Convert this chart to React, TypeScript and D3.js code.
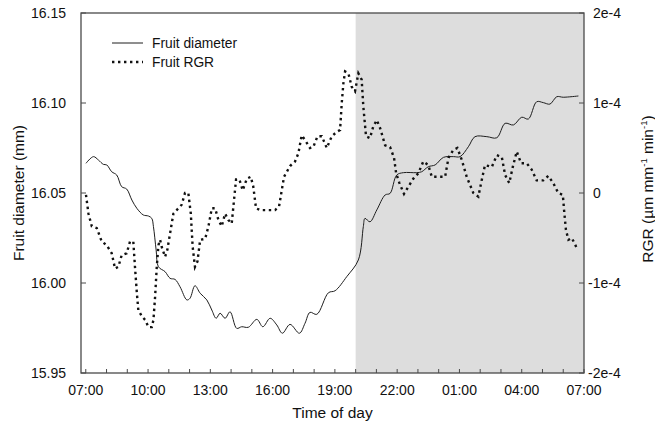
import React from 'react';
import * as d3 from 'd3';

// Time in hours since 00:00 of day 1 (values > 24 are the next day)
const diameterTime = [7.01, 7.37, 7.61, 7.85, 8.01, 8.25, 8.49, 8.73, 8.97, 9.22, 9.46, 9.77, 10.02, 10.18, 10.26, 10.39, 10.5, 10.82, 11.06, 11.3, 11.54, 11.87, 12.02, 12.26, 12.51, 12.83, 13.07, 13.28, 13.47, 13.71, 13.95, 14.27, 14.51, 14.83, 15.24, 15.53, 15.88, 16.2, 16.47, 16.84, 17.29, 17.56, 17.8, 18.13, 18.69, 19.01, 19.57, 20.13, 20.37, 20.45, 20.69, 21.02, 21.42, 21.66, 21.98, 22.3, 22.94, 23.18, 23.5, 23.83, 24.23, 24.71, 25.03, 25.43, 25.75, 26.32, 26.8, 27.2, 27.6, 28.0, 28.32, 28.72, 29.04, 29.36, 29.69, 30.0, 30.73];
const diameterValue = [16.0665, 16.0702, 16.0683, 16.0659, 16.0656, 16.0618, 16.06, 16.0535, 16.0522, 16.0461, 16.0415, 16.0378, 16.0372, 16.0359, 16.0313, 16.0183, 16.009, 16.0063, 16.0026, 16.002, 15.9979, 15.9906, 15.9915, 15.9985, 15.9943, 15.9906, 15.985, 15.9804, 15.9832, 15.9804, 15.984, 15.9748, 15.9757, 15.9754, 15.9798, 15.9757, 15.9804, 15.9767, 15.9721, 15.977, 15.9721, 15.9776, 15.9837, 15.9826, 15.9946, 15.9957, 16.0035, 16.0128, 16.0313, 16.0359, 16.034, 16.0406, 16.0489, 16.0498, 16.06, 16.0613, 16.0613, 16.0618, 16.0646, 16.0656, 16.0698, 16.0702, 16.0702, 16.0757, 16.0813, 16.0813, 16.0807, 16.0887, 16.0878, 16.0921, 16.0911, 16.1007, 16.1002, 16.0994, 16.1035, 16.1032, 16.1039];

// RGR in units of 1e-4 µm mm-1 min-1
const rgrTime = [7.01, 7.13, 7.29, 7.53, 7.77, 8.01, 8.25, 8.41, 8.57, 8.73, 8.97, 9.13, 9.29, 9.37, 9.46, 9.53, 9.7, 9.86, 10.02, 10.18, 10.26, 10.34, 10.42, 10.5, 10.58, 10.66, 10.82, 10.93, 11.06, 11.22, 11.46, 11.62, 11.78, 11.94, 12.06, 12.15, 12.26, 12.38, 12.51, 12.75, 12.91, 13.07, 13.23, 13.39, 13.55, 13.71, 13.87, 14.03, 14.14, 14.24, 14.4, 14.56, 14.76, 14.95, 15.07, 15.2, 15.4, 15.8, 16.12, 16.31, 16.55, 16.84, 17.08, 17.24, 17.4, 17.56, 17.8, 17.96, 18.16, 18.37, 18.61, 18.85, 19.09, 19.25, 19.33, 19.41, 19.49, 19.65, 19.81, 19.97, 20.13, 20.29, 20.37, 20.5, 20.69, 20.85, 21.02, 21.18, 21.42, 21.66, 21.85, 21.95, 22.11, 22.33, 22.54, 22.78, 23.02, 23.26, 23.5, 23.67, 24.07, 24.31, 24.47, 24.71, 24.9, 25.11, 25.35, 25.67, 25.91, 26.07, 26.23, 26.56, 26.8, 27.04, 27.2, 27.4, 27.57, 27.76, 27.97, 28.24, 28.48, 28.72, 29.04, 29.28, 29.52, 29.76, 29.98, 30.04, 30.13, 30.25, 30.41, 30.57, 30.68];
const rgrValue = [-0.02, -0.23, -0.37, -0.39, -0.54, -0.58, -0.67, -0.84, -0.82, -0.69, -0.67, -0.54, -0.54, -0.82, -1.11, -1.3, -1.37, -1.41, -1.49, -1.49, -1.41, -1.15, -0.82, -0.58, -0.52, -0.6, -0.71, -0.63, -0.45, -0.23, -0.17, -0.13, 0.0, 0.0, -0.23, -0.6, -0.82, -0.76, -0.52, -0.51, -0.37, -0.17, -0.17, -0.3, -0.37, -0.23, -0.3, -0.34, -0.08, 0.15, 0.15, 0.03, 0.16, 0.18, 0.07, -0.17, -0.19, -0.19, -0.19, -0.15, 0.18, 0.3, 0.35, 0.44, 0.64, 0.59, 0.5, 0.51, 0.63, 0.63, 0.5, 0.63, 0.68, 0.7, 1.0, 1.22, 1.35, 1.33, 1.18, 1.13, 1.33, 1.26, 0.96, 0.63, 0.61, 0.74, 0.81, 0.72, 0.53, 0.51, 0.39, 0.22, 0.11, -0.01, 0.07, 0.16, 0.22, 0.35, 0.31, 0.18, 0.18, 0.18, 0.39, 0.48, 0.5, 0.37, 0.18, 0.0, -0.04, 0.14, 0.31, 0.29, 0.42, 0.4, 0.2, 0.11, 0.29, 0.46, 0.33, 0.33, 0.26, 0.14, 0.14, 0.19, 0.11, 0.0, -0.02, -0.19, -0.41, -0.52, -0.5, -0.57, -0.63];

const xTickHours = [7, 10, 13, 16, 19, 22, 25, 28, 31];
const xTickLabels = ['07:00', '10:00', '13:00', '16:00', '19:00', '22:00', '01:00', '04:00', '07:00'];
const xMinorHours = d3.range(7, 32, 1);
const leftTicks = [15.95, 16.0, 16.05, 16.1, 16.15];
const leftTickLabels = ['15.95', '16.00', '16.05', '16.10', '16.15'];
const rightTicks = [-2, -1, 0, 1, 2];
const rightTickLabels = ['-2e-4', '-1e-4', '0', '1e-4', '2e-4'];
const nightStart = 20;
const nightEnd = 31;
const legendLabels = ['Fruit diameter', 'Fruit RGR'];

const W = 655;
const H = 431;
const L = 81;
const R = 584;
const T = 13;
const B = 373;
const FONT = '"Liberation Sans", Arial, Helvetica, sans-serif';
const AXIS = '#4a4a4a';

export default function App() {
  const x = d3.scaleLinear().domain([6.77, 31]).range([L, R]);
  const yL = d3.scaleLinear().domain([15.95, 16.15]).range([B, T]);
  const yR = d3.scaleLinear().domain([-2, 2]).range([B, T]);

  const dia = diameterTime.map((t, i) => [t, diameterValue[i]] as [number, number]);
  const rgr = rgrTime.map((t, i) => [t, rgrValue[i]] as [number, number]);

  const diaLine = d3
    .line<[number, number]>()
    .x((d) => x(d[0]))
    .y((d) => yL(d[1]))
    .curve(d3.curveCatmullRom.alpha(0.5));
  const rgrLine = d3
    .line<[number, number]>()
    .x((d) => x(d[0]))
    .y((d) => yR(d[1]))
    .curve(d3.curveLinear);

  const dash = '2.4 3.6';

  return (
    <svg
      width={W}
      height={H}
      style={{ position: 'absolute', left: 0, top: 0, background: '#fff' }}
      fontFamily={FONT}
    >
      {/* night shading */}
      <rect
        x={x(nightStart)}
        y={T}
        width={x(nightEnd) - x(nightStart)}
        height={B - T}
        fill="#dddddd"
      />

      {/* lines */}
      <path d={diaLine(dia) || ''} fill="none" stroke="#1e1e1e" strokeWidth={1} />
      <path
        d={rgrLine(rgr) || ''}
        fill="none"
        stroke="#111"
        strokeWidth={2.4}
        strokeDasharray={dash}
      />

      {/* frame */}
      <rect x={L} y={T} width={R - L} height={B - T} fill="none" stroke={AXIS} strokeWidth={1.3} />

      {/* x ticks */}
      {xMinorHours.map((h) => (
        <line key={'mn' + h} x1={x(h)} x2={x(h)} y1={B} y2={B - 4} stroke={AXIS} strokeWidth={1} />
      ))}
      {xTickHours.map((h, i) => (
        <text
          key={'xl' + i}
          x={x(h)}
          y={B + 22}
          textAnchor="middle"
          fontSize={14}
          fill="#111"
        >
          {xTickLabels[i]}
        </text>
      ))}

      {/* left ticks */}
      {leftTicks.map((v, i) => (
        <g key={'lt' + i}>
          <line x1={L} x2={L + 5} y1={yL(v)} y2={yL(v)} stroke={AXIS} strokeWidth={1} />
          <text x={L - 15} y={yL(v) + 5} textAnchor="end" fontSize={14} fill="#111">
            {leftTickLabels[i]}
          </text>
        </g>
      ))}

      {/* right ticks */}
      {rightTicks.map((v, i) => (
        <g key={'rt' + i}>
          <line x1={R - 5} x2={R} y1={yR(v)} y2={yR(v)} stroke={AXIS} strokeWidth={1} />
          <text
            x={R + (rightTickLabels[i].startsWith('-') ? 4 : 9)}
            y={yR(v) + 5}
            textAnchor="start"
            fontSize={14}
            fill="#111"
          >
            {rightTickLabels[i]}
          </text>
        </g>
      ))}

      {/* axis titles */}
      <text
        transform={`translate(23.5, ${(T + B) / 2}) rotate(-90)`}
        textAnchor="middle"
        fontSize={15.5}
        fill="#111"
      >
        Fruit diameter (mm)
      </text>
      <text
        transform={`translate(653, ${(T + B) / 2 - 4}) rotate(-90)`}
        textAnchor="middle"
        fontSize={15.5}
        fill="#111"
      >
        RGR (µm mm
        <tspan dy={-6} fontSize={9.5}>-1</tspan>
        <tspan dy={6}> min</tspan>
        <tspan dy={-6} fontSize={9.5}>-1</tspan>
        <tspan dy={6}>)</tspan>
      </text>
      <text x={(L + R) / 2} y={418} textAnchor="middle" fontSize={15.5} fill="#111">
        Time of day
      </text>

      {/* legend */}
      <line x1={112} x2={143} y1={43} y2={43} stroke="#1e1e1e" strokeWidth={1} />
      <text x={152} y={47.5} fontSize={13.8} fill="#111">
        {legendLabels[0]}
      </text>
      <line x1={112} x2={143} y1={62} y2={62} stroke="#111" strokeWidth={2.4} strokeDasharray={dash} />
      <text x={152} y={66.5} fontSize={13.8} fill="#111">
        {legendLabels[1]}
      </text>
    </svg>
  );
}
